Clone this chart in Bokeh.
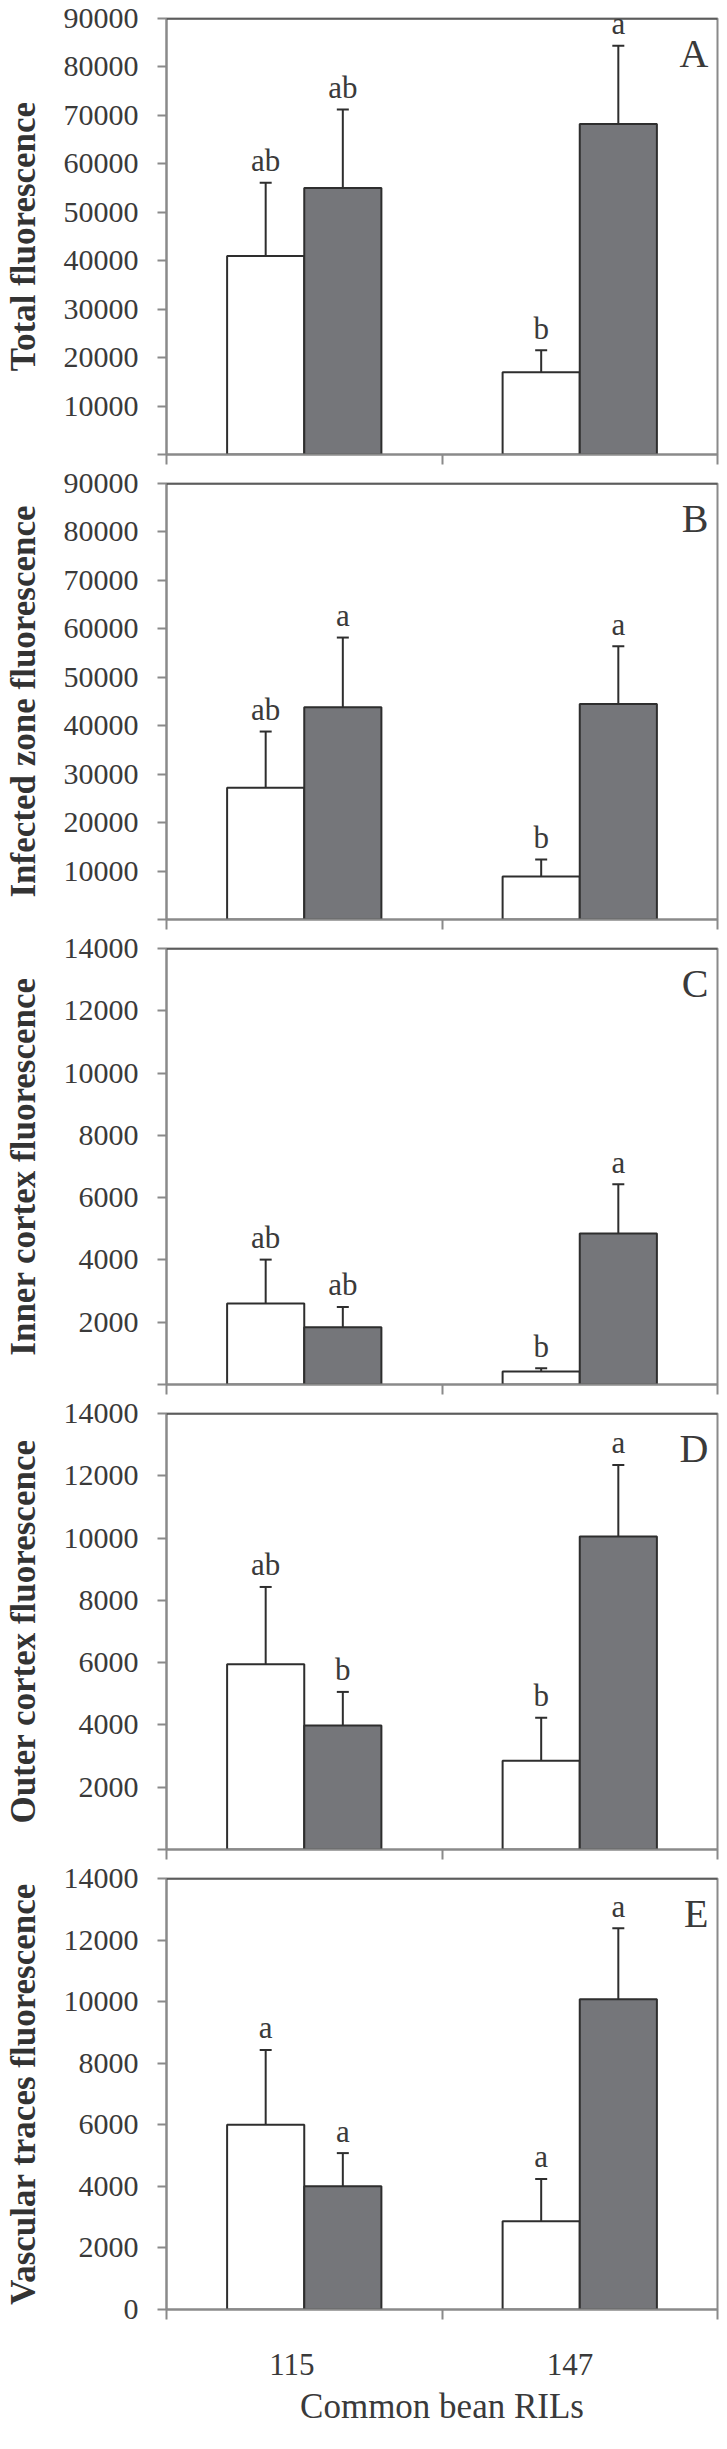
from bokeh.plotting import figure
from bokeh.layouts import column
from bokeh.models import (Range1d, FixedTicker, Whisker, TeeHead, ColumnDataSource,
                          Label, Span, NumeralTickFormatter, Title)
from bokeh.embed import file_html
from bokeh.resources import INLINE
from bokeh.core.properties import value

# ---------------- data ----------------
lines = ["115", "147"]
line_pos = [0.5, 1.5]
line_label_pos = [0.455, 1.465]
bound_ticks = [0, 1, 2]

panel_ids = ["A", "B", "C", "D", "E"]
y_titles = ["Total fluorescence", "Infected zone fluorescence",
            "Inner cortex fluorescence", "Outer cortex fluorescence",
            "Vascular traces fluorescence"]
x_title = "Common bean RILs"
y_max = [90000, 90000, 14000, 14000, 14000]
y_step = [10000, 10000, 2000, 2000, 2000]

white_mean = [[41000, 17000], [27200, 8900], [2600, 420], [5950, 2850], [6000, 2870]]
white_se = [[15100, 4500], [11600, 3500], [1410, 105], [2480, 1380], [2430, 1370]]
white_sig = [["ab", "b"], ["ab", "b"], ["ab", "b"], ["ab", "b"], ["a", "a"]]

gray_mean = [[55000, 68200], [43800, 44500], [1840, 4850], [3980, 10050], [4000, 10080]]
gray_se = [[16200, 16200], [14400, 11900], [650, 1580], [1080, 2300], [1080, 2300]]
gray_sig = [["ab", "a"], ["a", "a"], ["ab", "a"], ["b", "a"], ["a", "a"]]

# ---------------- style ----------------
FONT = "Liberation Serif"
AXIS_GRAY = "#8a8a8a"
DARK = "#2e2e2e"
TEXT = "#3a3a3a"
BAR_GRAY = "#75767a"
BAR_W = 0.28
OFF = 0.14

FRAME_H = 436
TOP_B = 18
BOT_B = 11
LAST_BOT_B = 118

figs = []
for i in range(5):
    last = (i == 4)
    bb = LAST_BOT_B if last else BOT_B
    p = figure(width=719, height=TOP_B + FRAME_H + bb, output_backend="svg",
               toolbar_location=None,
               x_range=Range1d(0, 2), y_range=Range1d(0, y_max[i]),
               min_border_left=163, min_border_right=2,
               min_border_top=TOP_B, min_border_bottom=bb)
    p.grid.visible = False
    p.background_fill_color = "white"
    p.border_fill_color = "white"
    p.outline_line_color = AXIS_GRAY
    p.outline_line_width = 2

    # bars
    wx = [c - OFF for c in line_pos]
    gx = [c + OFF for c in line_pos]
    p.vbar(x=wx, top=white_mean[i], width=BAR_W, bottom=0,
           fill_color="white", line_color=DARK, line_width=2)
    p.vbar(x=gx, top=gray_mean[i], width=BAR_W, bottom=0,
           fill_color=BAR_GRAY, line_color=DARK, line_width=2)

    xs = wx + gx
    means = white_mean[i] + gray_mean[i]
    ses = white_se[i] + gray_se[i]
    ups = [m + s for m, s in zip(means, ses)]
    sigs = white_sig[i] + gray_sig[i]
    src = ColumnDataSource(dict(x=xs, lower=means, upper=ups, sig=sigs))

    wh = Whisker(source=src, base="x", lower="lower", upper="upper", dimension="height",
                 line_color=DARK, line_width=2, lower_head=None,
                 upper_head=TeeHead(size=12, line_color=DARK, line_width=2))
    p.add_layout(wh)

    p.text(x="x", y="upper", text="sig", source=src,
           text_font=value(FONT), text_font_size=value("31px"), text_color=TEXT,
           text_align="center", text_baseline="alphabetic", y_offset=-22)

    # top border dark
    p.add_layout(Span(location=y_max[i], dimension="width", line_color=DARK, line_width=2))

    # panel letter
    p.add_layout(Label(x=2, y=y_max[i], x_offset=-9, y_offset=-12, text=panel_ids[i],
                       text_font=FONT, text_font_size="40px", text_color=TEXT,
                       text_align="right", text_baseline="top"))

    # y axis
    ya = p.yaxis[0]
    if last:
        ya.ticker = FixedTicker(ticks=list(range(0, y_max[i] + 1, y_step[i])))
    else:
        ya.ticker = FixedTicker(ticks=list(range(y_step[i], y_max[i] + 1, y_step[i])),
                                minor_ticks=[0])
    ya.formatter = NumeralTickFormatter(format="0")
    ya.axis_line_color = AXIS_GRAY
    ya.axis_line_width = 2
    ya.major_tick_line_color = AXIS_GRAY
    ya.major_tick_line_width = 2
    ya.major_tick_out = 9
    ya.major_tick_in = 0
    ya.minor_tick_line_color = AXIS_GRAY
    ya.minor_tick_line_width = 2
    ya.minor_tick_out = 9
    ya.minor_tick_in = 0
    ya.major_label_text_font = FONT
    ya.major_label_text_font_size = "30px"
    ya.major_label_text_color = TEXT
    ya.major_label_standoff = 19
    ya.axis_label = y_titles[i]
    ya.axis_label_text_font = FONT
    ya.axis_label_text_font_style = "bold"
    ya.axis_label_text_font_size = "35px"
    ya.axis_label_text_color = "#333333"
    ya.axis_label_standoff = 18

    # x axis
    xa = p.xaxis[0]
    xa.axis_line_color = AXIS_GRAY
    xa.axis_line_width = 2
    xa.minor_tick_line_color = AXIS_GRAY
    xa.minor_tick_line_width = 2
    xa.minor_tick_out = 10
    xa.minor_tick_in = 0
    xa.major_tick_line_color = None
    xa.major_tick_out = 0
    xa.major_tick_in = 0
    if not last:
        xa.ticker = FixedTicker(ticks=[], minor_ticks=bound_ticks)
        xa.major_label_standoff = 0
    else:
        xa.ticker = FixedTicker(ticks=line_label_pos, minor_ticks=bound_ticks)
        xa.major_label_overrides = {pos: lab for pos, lab in zip(line_label_pos, lines)}
        xa.major_label_text_font = FONT
        xa.major_label_text_font_size = "31px"
        xa.major_label_text_color = TEXT
        xa.major_label_standoff = 34
        p.add_layout(Title(text=x_title, align="center", offset=-27, standoff=14,
                           text_font=FONT, text_font_size="35px",
                           text_font_style="normal", text_color=TEXT), "below")
    figs.append(p)

layout = column(*figs, spacing=0)
open("out.html", "w").write(file_html(layout, INLINE))
